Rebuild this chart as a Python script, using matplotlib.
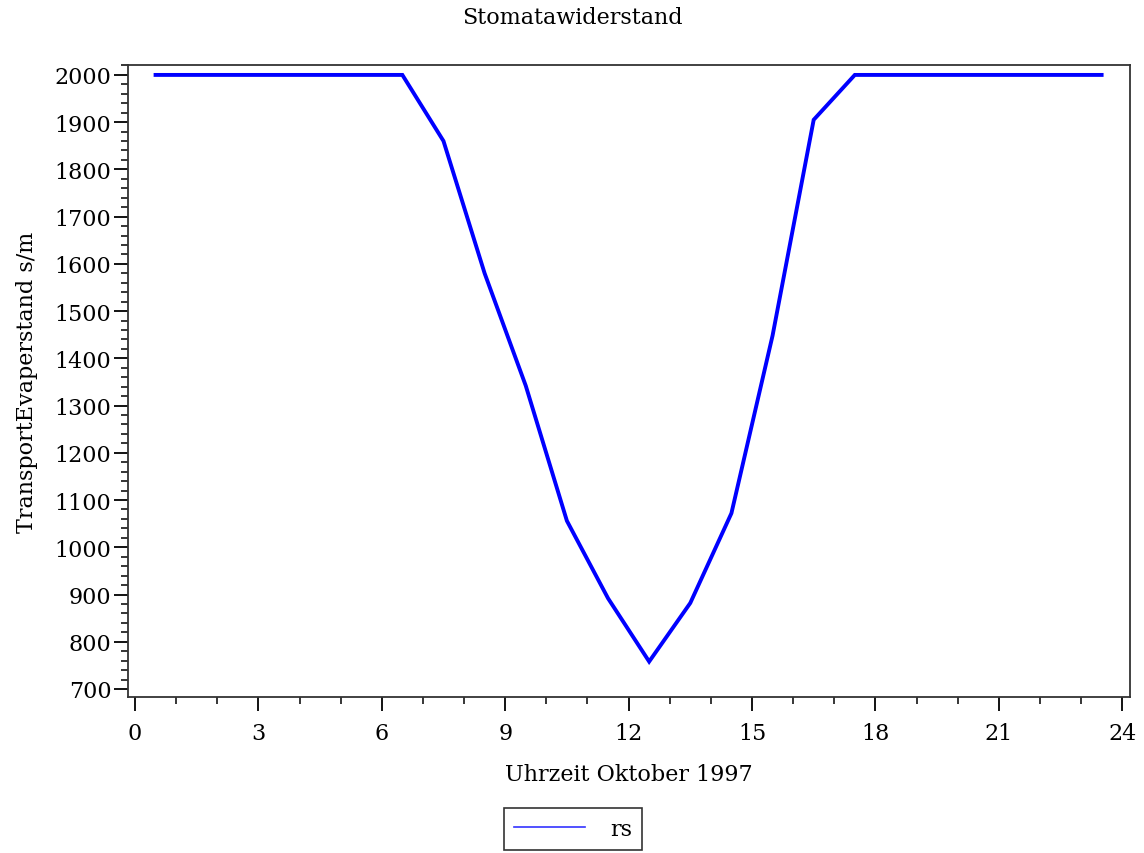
import matplotlib.pyplot as plt
from matplotlib.lines import Line2D
from matplotlib.ticker import MultipleLocator

# Stundenmittel (Uhrzeit) und Stomatawiderstand rs in s/m
hours = [0.5, 1.5, 2.5, 3.5, 4.5, 5.5, 6.5, 7.5, 8.5, 9.5, 10.5, 11.5,
         12.5, 13.5, 14.5, 15.5, 16.5, 17.5, 18.5, 19.5, 20.5, 21.5, 22.5, 23.5]
rs = [2000, 2000, 2000, 2000, 2000, 2000, 2000, 1860, 1580, 1342, 1056, 892,
      758, 882, 1072, 1448, 1905, 2000, 2000, 2000, 2000, 2000, 2000, 2000]

x_ticks = [0, 3, 6, 9, 12, 15, 18, 21, 24]
y_ticks = list(range(700, 2001, 100))

plt.rcParams['font.family'] = ['DejaVu Serif']
fs = 16

fig = plt.figure(figsize=(11.44, 8.54), dpi=100)
ax = fig.add_axes([128 / 1144, 1 - 698 / 854, 1002 / 1144, 632 / 854])

ax.plot(hours, rs, color='#0000ff', linewidth=2.8, solid_joinstyle='miter')

ax.set_xlim(-0.17, 24.19)
ax.set_ylim(683, 2021)
ax.set_xticks(x_ticks)
ax.set_yticks(y_ticks)
ax.xaxis.set_minor_locator(MultipleLocator(1))
ax.yaxis.set_minor_locator(MultipleLocator(20))
ax.tick_params(which='major', direction='out', length=10, width=1.3,
               labelsize=fs, colors='black')
ax.tick_params(axis='y', which='major', pad=2)
ax.tick_params(axis='x', which='major', pad=8)
ax.tick_params(which='minor', direction='out', length=5, width=1.1)
for s in ax.spines.values():
    s.set_linewidth(1.3)
    s.set_color('#333333')

ax.set_xlabel('Uhrzeit Oktober 1997', fontsize=fs, labelpad=14)
ax.set_ylabel('TransportEvaperstand s/m', fontsize=fs, labelpad=12)
fig.text(0.5, 1 - 18 / 854, 'Stomatawiderstand', ha='center', va='center', fontsize=fs)

handle = Line2D([], [], color='#3333ff', linewidth=1.2)
leg = fig.legend([handle], ['rs'], loc='center', bbox_to_anchor=(573 / 1144, 1 - 830 / 854),
                 fontsize=fs, frameon=True, fancybox=False, handlelength=3.2,
                 borderpad=0.45, handletextpad=1.1, borderaxespad=0)
leg.get_frame().set_edgecolor('black')
leg.get_frame().set_linewidth(1.2)

fig.savefig('out.png', dpi=100)
